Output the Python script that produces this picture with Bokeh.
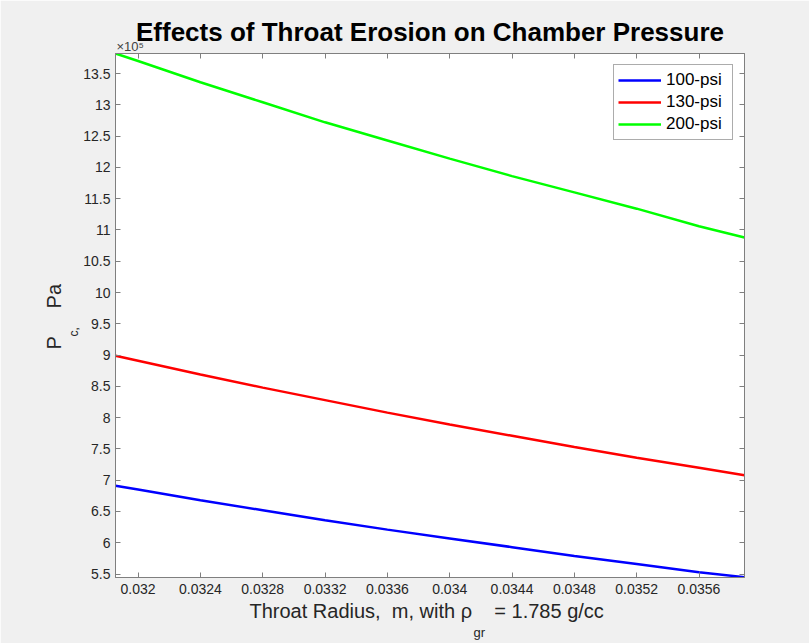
from bokeh.embed import file_html
from bokeh.models import (CustomJSTickFormatter, FixedTicker, LinearAxis,
                          Range1d, Title)
from bokeh.plotting import figure
from bokeh.resources import INLINE

# Throat radius samples (m)
radius = [0.031855, 0.0320, 0.0324, 0.0328, 0.0332, 0.0336, 0.0340,
          0.0344, 0.0348, 0.0352, 0.0356, 0.035892]

# Chamber pressure (Pa) for each design pressure
pc_100 = [6.91e5, 6.85e5, 6.68e5, 6.52e5, 6.36e5, 6.21e5, 6.07e5,
          5.93e5, 5.79e5, 5.66e5, 5.53e5, 5.45e5]
pc_130 = [8.99e5, 8.91e5, 8.69e5, 8.48e5, 8.28e5, 8.08e5, 7.89e5,
          7.71e5, 7.53e5, 7.36e5, 7.20e5, 7.08e5]
pc_200 = [13.82e5, 13.70e5, 13.36e5, 13.04e5, 12.72e5, 12.43e5, 12.14e5,
          11.86e5, 11.60e5, 11.34e5, 11.06e5, 10.88e5]

series_names = ["100-psi", "130-psi", "200-psi"]
series_colors = ["#0000ff", "#ff0000", "#00ff00"]

x_tick_labels = ["0.032", "0.0324", "0.0328", "0.0332", "0.0336",
                 "0.034", "0.0344", "0.0348", "0.0352", "0.0356"]
y_tick_labels = ["5.5", "6", "6.5", "7", "7.5", "8", "8.5", "9", "9.5",
                 "10", "10.5", "11", "11.5", "12", "12.5", "13", "13.5"]
y_scale = 1e5

x_lo, x_hi = 0.031855, 0.035892
y_lo, y_hi = 5.445e5, 13.82e5

FONT = "Liberation Sans"
DARK = "#262626"
AXIS_GRAY = "#7f7f7f"
NBSP = "\u00a0"

# frame geometry (pixels)
L, R, T, B = 115, 744, 53, 577
W, H = 809, 643

p = figure(width=W, height=H, output_backend="svg", toolbar_location=None,
           x_range=Range1d(x_lo, x_hi), y_range=Range1d(y_lo, y_hi),
           min_border_left=L, min_border_right=W - R,
           min_border_top=T, min_border_bottom=H - B)
p.border_fill_color = "#f0f0f0"
p.background_fill_color = "white"
p.outline_line_color = AXIS_GRAY
p.grid.visible = False

for ys, name, col in zip([pc_100, pc_130, pc_200], series_names, series_colors):
    p.line(radius, ys, line_color=col, line_width=2.5, legend_label=name)

x_ticks = [float(s) for s in x_tick_labels]
y_ticks = [round(float(s) * y_scale) for s in y_tick_labels]

x_fmt = CustomJSTickFormatter(code="return String(+tick.toPrecision(6));")
y_fmt = CustomJSTickFormatter(code="return String(+(tick / 1e5).toFixed(2));")


def style_axis(ax, show_labels):
    ax.axis_line_color = AXIS_GRAY
    ax.major_tick_line_color = AXIS_GRAY
    ax.major_tick_in = 5
    ax.major_tick_out = 0
    ax.minor_tick_line_color = None
    ax.major_label_text_font = FONT
    if show_labels:
        ax.major_label_text_color = DARK
        ax.major_label_text_font_size = "14px"
    else:
        ax.major_label_text_color = None
        ax.major_label_text_font_size = "1px"


xb = p.xaxis[0]
xb.ticker = FixedTicker(ticks=x_ticks)
xb.formatter = x_fmt
style_axis(xb, True)
xb.major_label_standoff = 6

yl = p.yaxis[0]
yl.ticker = FixedTicker(ticks=y_ticks)
yl.formatter = y_fmt
style_axis(yl, True)
yl.major_label_standoff = 5

# mirrored tick marks on the top and right edges of the box
xt = LinearAxis(ticker=FixedTicker(ticks=x_ticks), formatter=x_fmt)
style_axis(xt, False)
xt.major_label_standoff = 0
p.add_layout(xt, "above")

yr = LinearAxis(ticker=FixedTicker(ticks=y_ticks), formatter=y_fmt)
style_axis(yr, False)
yr.major_label_standoff = 0
p.add_layout(yr, "right")

leg = p.legend[0]
leg.location = "top_right"
leg.margin = 11
leg.padding = 4
leg.spacing = 0
leg.label_height = 22
leg.glyph_height = 22
leg.glyph_width = 43
leg.label_standoff = 5
leg.label_width = 62
leg.label_text_font = FONT
leg.label_text_font_size = "17px"
leg.label_text_color = "black"
leg.border_line_color = "#5a5a5a"
leg.border_line_width = 1
leg.background_fill_color = "white"
leg.background_fill_alpha = 1.0


def side_text(where, s, size, offset, standoff, color=DARK, style="normal"):
    t = Title(text=s, align="left", offset=offset, standoff=standoff,
              text_font=FONT, text_font_size=size, text_color=color,
              text_font_style=style)
    p.add_layout(t, where)
    return t


# exponent marker for the y axis, just above the box
side_text("above", "\u00d710\u2075", "13px", 1, 0, color="#404040")

# title
p.title.text = "Effects of Throat Erosion on Chamber Pressure"
p.title.align = "center"
p.title.text_font = FONT
p.title.text_font_size = "26px"
p.title.text_font_style = "bold"
p.title.text_color = "black"
p.title.standoff = -20

# x-axis label; the density subscript sits on the next row, under the gap
side_text("below",
          "Throat Radius," + NBSP + " m, with \u03c1" + NBSP * 4 + "= 1.785 g/cc",
          "20px", 134, 2)
side_text("below", "gr", "13px", 358, 0)

# y-axis label (reads bottom to top); subscript row lies nearer the axis
side_text("left", "c,", "12px", 241, 0)
side_text("left", "P" + NBSP * 5 + "Pa", "20px", 228, 0)

open("out.html", "w").write(file_html(p, INLINE))
